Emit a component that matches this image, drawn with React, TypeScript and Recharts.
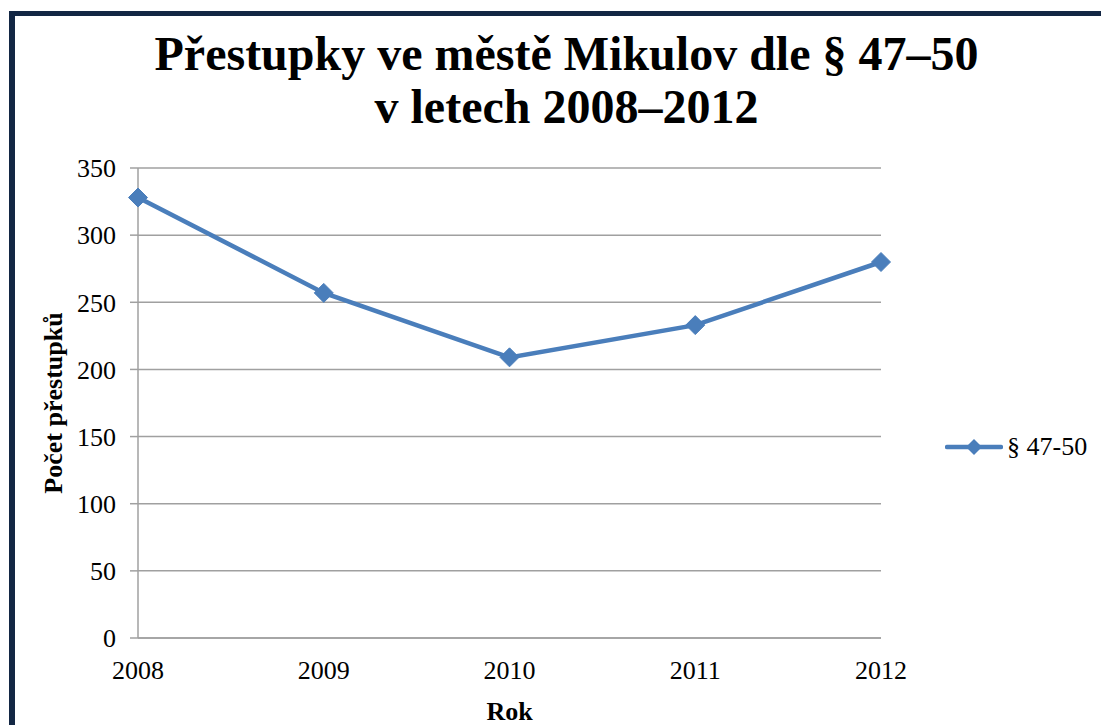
import { LineChart, Line, XAxis, YAxis, CartesianGrid, Legend, Label } from 'recharts'

const years = ['2008', '2009', '2010', '2011', '2012']
const offences = [328, 257, 209, 233, 280]
const yTicks = [0, 50, 100, 150, 200, 250, 300, 350]
const seriesName = '§ 47-50'

const chartData = years.map((year, i) => ({ year, value: offences[i] }))

const BLUE = '#4a7ebb'
const SERIF = "'Liberation Serif', 'DejaVu Serif', serif"

const Diamond = (props: any) => {
  const { cx, cy } = props
  if (cx == null || cy == null) return null
  const r = 9.5
  return (
    <polygon
      points={`${cx},${cy - r} ${cx + r},${cy} ${cx},${cy + r} ${cx - r},${cy}`}
      fill={BLUE}
      stroke={BLUE}
      strokeWidth={1}
    />
  )
}

const LegendContent = () => (
  <div style={{ display: 'flex', alignItems: 'center', fontFamily: SERIF, fontSize: 26, color: '#000' }}>
    <svg width={58} height={24}>
      <line x1={2} y1={12} x2={56} y2={12} stroke={BLUE} strokeWidth={4.5} strokeLinecap="round" />
      <polygon points="29,4 37,12 29,20 21,12" fill={BLUE} />
    </svg>
    <span style={{ marginLeft: 4 }}>{seriesName}</span>
  </div>
)

export default function App() {
  return (
    <div style={{ position: 'absolute', left: 0, top: 0, width: 1101, height: 725, background: '#fff', overflow: 'hidden', fontFamily: SERIF }}>
      {/* frame */}
      <div
        style={{
          position: 'absolute',
          left: 9,
          top: 11,
          width: 1100,
          height: 720,
          borderLeft: '6px solid #132744',
          borderTop: '5px solid #132744',
        }}
      />
      {/* title */}
      <div
        style={{
          position: 'absolute',
          left: 0,
          top: 27,
          width: 1133,
          textAlign: 'center',
          fontFamily: SERIF,
          fontWeight: 'bold',
          fontSize: 48,
          lineHeight: '53px',
          color: '#000',
        }}
      >
        <div>Přestupky ve městě Mikulov dle § 47–50</div>
        <div>v letech 2008–2012</div>
      </div>
      <LineChart
        width={1101}
        height={725}
        data={chartData}
        margin={{ top: 168, right: 220, bottom: 0, left: 38 }}
        style={{ position: 'absolute', left: 0, top: 0, fontFamily: SERIF }}
      >
        <CartesianGrid vertical={false} stroke="#a0a0a0" strokeWidth={1.5} />
        <XAxis
          dataKey="year"
          height={87}
          tickLine={false}
          tickMargin={17}
          axisLine={{ stroke: '#a0a0a0', strokeWidth: 1.5 }}
          tick={{ fill: '#000', fontSize: 26, fontFamily: SERIF }}
        >
          <Label
            content={(p: any) => {
              const vb = p.viewBox || { x: 0, width: 0, y: 0 }
              return (
                <text
                  x={vb.x + vb.width / 2}
                  y={720}
                  textAnchor="middle"
                  style={{ fontFamily: SERIF, fontWeight: 'bold', fontSize: 26 }}
                  fill="#000"
                >
                  Rok
                </text>
              )
            }}
          />
        </XAxis>
        <YAxis
          width={100}
          domain={[0, 350]}
          ticks={yTicks}
          interval={0}
          tickSize={8}
          tickMargin={14}
          tickLine={{ stroke: '#a0a0a0', strokeWidth: 1.5 }}
          axisLine={{ stroke: '#a0a0a0', strokeWidth: 1.5 }}
          tick={{ fill: '#000', fontSize: 26, fontFamily: SERIF }}
        >
          <Label
            content={(p: any) => {
              const vb = p.viewBox || { y: 0, height: 0 }
              const cy = vb.y + vb.height / 2
              return (
                <text
                  x={53}
                  y={cy}
                  transform={`rotate(-90, 53, ${cy})`}
                  textAnchor="middle"
                  dominantBaseline="central"
                  style={{ fontFamily: SERIF, fontWeight: 'bold', fontSize: 26 }}
                  fill="#000"
                >
                  Počet přestupků
                </text>
              )
            }}
          />
        </YAxis>
        <Legend
          layout="horizontal"
          align="center"
          verticalAlign="middle"
          content={<LegendContent />}
          wrapperStyle={{ left: 945, top: 432, width: 156 }}
        />
        <Line
          type="linear"
          dataKey="value"
          name={seriesName}
          stroke={BLUE}
          strokeWidth={4.5}
          dot={<Diamond />}
          activeDot={false}
          isAnimationActive={false}
        />
      </LineChart>
    </div>
  )
}
